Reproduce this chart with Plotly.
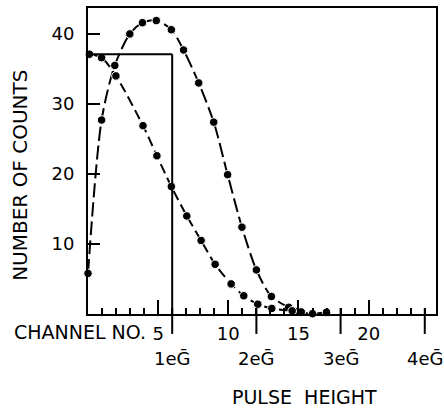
import plotly.graph_objects as go

# ---- data ----
# Curve A: peaked distribution
chan_a = [0, 0.97, 1.91, 2.98, 3.88, 4.87, 5.94, 6.81, 7.89, 8.96, 9.95, 10.97,
          12.0, 13.07, 14.3, 14.9, 16.0, 17.0]
counts_a = [5.8, 27.7, 35.5, 40.0, 41.6, 41.9, 40.6, 37.7, 33.0, 27.4, 19.9, 12.4,
            6.3, 2.5, 0.95, 0.35, 0.05, 0.25]

# Curve B: decreasing distribution
chan_b = [0.1, 0.97, 1.99, 3.92, 4.91, 5.94, 7.04, 8.06, 9.06, 10.2, 11.1, 12.1,
          13.1, 14.55, 15.2]
counts_b = [37.1, 36.6, 34.0, 26.9, 22.6, 18.2, 14.0, 10.5, 7.1, 4.3, 2.6, 1.4,
            0.8, 0.45, 0.3]

# Rectangle (ideal pulse) : height and width in channels
rect_height = 37.1
rect_width = 6.0

# Tick labels
chan_ticks = [5, 10, 15, 20]
chan_ticktext = ["5", "10", "15", "20"]
count_ticks = [10, 20, 30, 40]
count_ticktext = ["10", "20", "30", "40"]
eg_pos = [6.0, 12.0, 18.0, 24.0]
eg_text = ["1e\u1e20", "2e\u1e20", "3e\u1e20", "4e\u1e20"]

FONT = "DejaVu Sans"
W, H = 444, 408
ML, MR, MT, MB = 88, 6, 7, 94
PH = H - MT - MB

fig = go.Figure()

fig.add_trace(go.Scatter(
    x=chan_a, y=counts_a, mode="lines+markers",
    line=dict(color="black", width=2, dash="14px,5px", shape="spline", smoothing=0.8),
    marker=dict(color="black", size=8.5, line=dict(color="white", width=1)),
    cliponaxis=False, showlegend=False))

fig.add_trace(go.Scatter(
    x=chan_b, y=counts_b, mode="lines+markers",
    line=dict(color="black", width=2, dash="10px,5px", shape="spline", smoothing=0.8),
    marker=dict(color="black", size=8.5, line=dict(color="white", width=1)),
    cliponaxis=False, showlegend=False))

shapes = []
# rectangle top and right side
shapes.append(dict(type="line", xref="x", yref="y", x0=0, x1=rect_width,
                   y0=rect_height, y1=rect_height, line=dict(color="black", width=2)))
shapes.append(dict(type="line", xref="x", yref="y", x0=rect_width, x1=rect_width,
                   y0=0, y1=rect_height, line=dict(color="black", width=2)))
# eG ticks extending below axis
for p in eg_pos:
    shapes.append(dict(type="line", xref="x", yref="paper", x0=p, x1=p,
                       y0=-20 / PH, y1=6 / PH, line=dict(color="black", width=2)))

annotations = [
    dict(text="CHANNEL NO.", xref="paper", yref="paper",
         x=(148 - ML) / (W - ML - MR), y=-(332 - (H - MB)) / PH,
         xanchor="right", yanchor="middle", showarrow=False,
         font=dict(family=FONT, size=19, color="black")),
    dict(text="PULSE\u00a0 HEIGHT", xref="paper", yref="paper",
         x=(306 - ML) / (W - ML - MR), y=-(397 - (H - MB)) / PH,
         xanchor="center", yanchor="middle", showarrow=False,
         font=dict(family=FONT, size=19, color="black")),
    dict(text="NUMBER OF COUNTS", xref="paper", yref="paper",
         x=(20 - ML) / (W - ML - MR), y=(H - MB - 175) / PH,
         xanchor="center", yanchor="middle", showarrow=False, textangle=-90,
         font=dict(family=FONT, size=20, color="black")),
]
for p, t in zip(eg_pos, eg_text):
    annotations.append(dict(text=t, xref="x", yref="paper", x=p, y=-(359 - (H - MB)) / PH,
                            xanchor="center", yanchor="middle", showarrow=False,
                            font=dict(family=FONT, size=18, color="black")))

fig.update_layout(
    width=W, height=H,
    margin=dict(l=ML, r=MR, t=MT, b=MB),
    paper_bgcolor="white", plot_bgcolor="white",
    shapes=shapes, annotations=annotations,
    xaxis=dict(range=[0, 24.8], showgrid=False, zeroline=False,
               showline=True, linecolor="black", linewidth=2, mirror=True,
               tickmode="array", tickvals=chan_ticks, ticktext=chan_ticktext,
               ticks="inside", ticklen=14, tickwidth=2, tickcolor="black",
               ticklabelstandoff=2,
               tickfont=dict(family=FONT, size=18, color="black"),
               minor=dict(dtick=1, tick0=0, ticks="inside", ticklen=6, tickwidth=1.5,
                          tickcolor="black", showgrid=False)),
    yaxis=dict(range=[0, 43.7], showgrid=False, zeroline=False,
               showline=True, linecolor="black", linewidth=2, mirror=True,
               tickmode="array", tickvals=count_ticks, ticktext=count_ticktext,
               ticks="inside", ticklen=12, tickwidth=2, tickcolor="black",
               ticklabelstandoff=8,
               tickfont=dict(family=FONT, size=18, color="black")),
)

fig.write_html("out.html")
